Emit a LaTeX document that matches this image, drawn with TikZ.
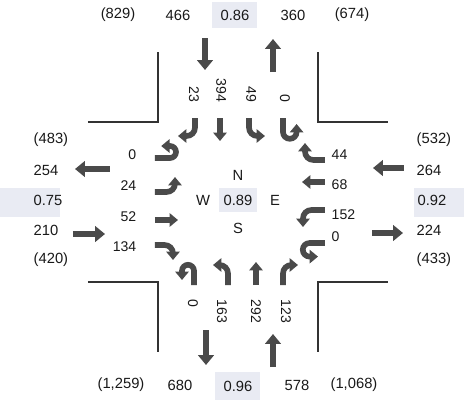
\documentclass[tikz,border=0pt]{standalone}
\usepackage{fontspec}
\setmainfont{Liberation Sans}
\usetikzlibrary{arrows.meta}
\definecolor{arrowgray}{HTML}{4A4A4A}
\definecolor{factorfill}{HTML}{E9EBF3}

\begin{document}
\begin{tikzpicture}[
	lane/.style={draw=arrowgray, line width=4pt, -{Triangle[width=9.5pt,length=6pt]}},
	turn/.style={lane, rounded corners=6pt},
	flow/.style={draw=arrowgray, line width=4.6pt, -{Triangle[width=11pt,length=7pt]}},
	curb/.style={draw=black!80, line width=0.9pt},
	vol/.style={font=\fontsize{10}{12}\selectfont, text=black!90, inner sep=1pt},
	count/.style={font=\fontsize{10.5}{12}\selectfont, text=black!90, inner sep=1pt},
	factor/.style={count, fill=factorfill, minimum height=0.65cm}
]
	\useasboundingbox (-5.95,-4.925) rectangle (5.65,5.05);

	\draw[curb] (-3.75, 2) -- (-2, 2) -- (-2, 3.75);
	\draw[curb] (3.75, 2) -- (2, 2) -- (2, 3.75);
	\draw[curb] (-3.75, -2) -- (-2, -2) -- (-2, -3.75);
	\draw[curb] (3.75, -2) -- (2, -2) -- (2, -3.75);

	\fill[factorfill] (-5.95, -0.375) rectangle (-4.45, 0.35);
	\fill[factorfill] (4.4, -0.375) rectangle (5.65, 0.35);

	\node[count] (nOutT) at (-3.0, 4.675) {(829)};
	\node[count] (nIn) at (-1.5, 4.675) {466};
	\node[factor, minimum width=1.125cm] (nPhf) at (-0.075, 4.675) {0.86};
	\node[count] (nOut) at (1.375, 4.675) {360};
	\node[count] (nInT) at (2.85, 4.675) {(674)};

	\node[count] (sInT) at (-2.925, -4.575) {(1,259)};
	\node[count] (sOut) at (-1.45, -4.575) {680};
	\node[factor, minimum width=1.125cm, minimum height=0.7cm] (sPhf) at (0, -4.6) {0.96};
	\node[count] (sIn) at (1.475, -4.575) {578};
	\node[count] (sOutT) at (2.9, -4.575) {(1,068)};

	\node[count, anchor=west] (wOutT) at (-5.15, 1.55) {(483)};
	\node[count, anchor=west] (wOut) at (-5.15, 0.8) {254};
	\node[count, anchor=west] (wPhf) at (-5.15, 0.05) {0.75};
	\node[count, anchor=west] (wIn) at (-5.15, -0.7) {210};
	\node[count, anchor=west] (wInT) at (-5.15, -1.45) {(420)};

	\node[count, anchor=west] (eInT) at (4.425, 1.55) {(532)};
	\node[count, anchor=west] (eIn) at (4.425, 0.8) {264};
	\node[count, anchor=west] (ePhf) at (4.45, 0.05) {0.92};
	\node[count, anchor=west] (eOut) at (4.425, -0.7) {224};
	\node[count, anchor=west] (eOutT) at (4.425, -1.45) {(433)};

	\draw[flow] (-0.825, 4.1) -- (-0.825, 3.3);
	\draw[flow] (0.875, 3.25) -- (0.875, 4.075);
	\draw[flow] (-0.8, -3.2) -- (-0.8, -4.075);
	\draw[flow] (0.875, -4.125) -- (0.875, -3.3);
	\draw[flow] (-3.2, 0.825) -- (-4.075, 0.825);
	\draw[flow] (-4.125, -0.8) -- (-3.325, -0.8);
	\draw[flow] (4.15, 0.85) -- (3.375, 0.85);
	\draw[flow] (3.35, -0.775) -- (4.125, -0.775);

	\node[vol, rotate=-90, anchor=east] (nR) at (-1.1, 2.45) {23};
	\node[vol, rotate=-90, anchor=east] (nT) at (-0.42, 2.45) {394};
	\node[vol, rotate=-90, anchor=east] (nL) at (0.33, 2.45) {49};
	\node[vol, rotate=-90, anchor=east] (nU) at (1.175, 2.45) {0};
	\draw[turn] (-1.075, 2.1) |- (-1.5, 1.65);
	\draw[lane] (-0.45, 2.1) -- (-0.45, 1.525);
	\draw[turn] (0.275, 2.1) |- (0.675, 1.65);
	\draw[lane] (1.125, 2.1) -- (1.125, 1.75) arc[start angle=180, end angle=360, radius=0.17] -- (1.465, 1.95);

	\node[vol, rotate=-90, anchor=west] (sU) at (-1.125, -2.4) {0};
	\node[vol, rotate=-90, anchor=west] (sL) at (-0.4, -2.4) {163};
	\node[vol, rotate=-90, anchor=west] (sT) at (0.45, -2.4) {292};
	\node[vol, rotate=-90, anchor=west] (sR) at (1.2, -2.4) {123};
	\draw[lane] (-1.1, -2.075) -- (-1.1, -1.72) arc[start angle=0, end angle=180, radius=0.15] -- (-1.4, -1.95);
	\draw[turn] (-0.25, -2.075) |- (-0.625, -1.575);
	\draw[lane] (0.45, -2.075) -- (0.45, -1.5);
	\draw[turn] (1.125, -2.075) |- (1.5, -1.575);

	\node[vol, anchor=east] (wU) at (-2.5, 1.175) {0};
	\node[vol, anchor=east] (wL) at (-2.5, 0.4) {24};
	\node[vol, anchor=east] (wT) at (-2.5, -0.375) {52};
	\node[vol, anchor=east] (wR) at (-2.5, -1.125) {134};
	\draw[lane] (-2.075, 1.1) -- (-1.7, 1.1) arc[start angle=-90, end angle=90, radius=0.15] -- (-1.92, 1.4);
	\draw[turn] (-2.075, 0.25) -| (-1.575, 0.625);
	\draw[lane] (-2.075, -0.45) -- (-1.5, -0.45);
	\draw[turn] (-2.075, -1.075) -| (-1.625, -1.45);

	\node[vol, anchor=west] (eR) at (2.3, 1.175) {44};
	\node[vol, anchor=west] (eT) at (2.3, 0.425) {68};
	\node[vol, anchor=west] (eL) at (2.3, -0.325) {152};
	\node[vol, anchor=west] (eU) at (2.3, -0.875) {0};
	\draw[turn] (2.175, 1.05) -| (1.675, 1.475);
	\draw[lane] (2.175, 0.5) -- (1.6, 0.5);
	\draw[turn] (2.175, -0.2) -| (1.625, -0.625);
	\draw[lane] (2.175, -1.025) -- (1.79, -1.025) arc[start angle=90, end angle=270, radius=0.17] -- (2.0, -1.365);

	\node[count] (north) at (0, 0.675) {N};
	\node[count] (west) at (-0.875, 0.05) {W};
	\node[factor, minimum width=0.95cm, minimum height=0.6cm] (phf) at (0, 0.05) {0.89};
	\node[count] (east) at (0.925, 0.05) {E};
	\node[count] (south) at (0, -0.65) {S};
\end{tikzpicture}
\end{document}
